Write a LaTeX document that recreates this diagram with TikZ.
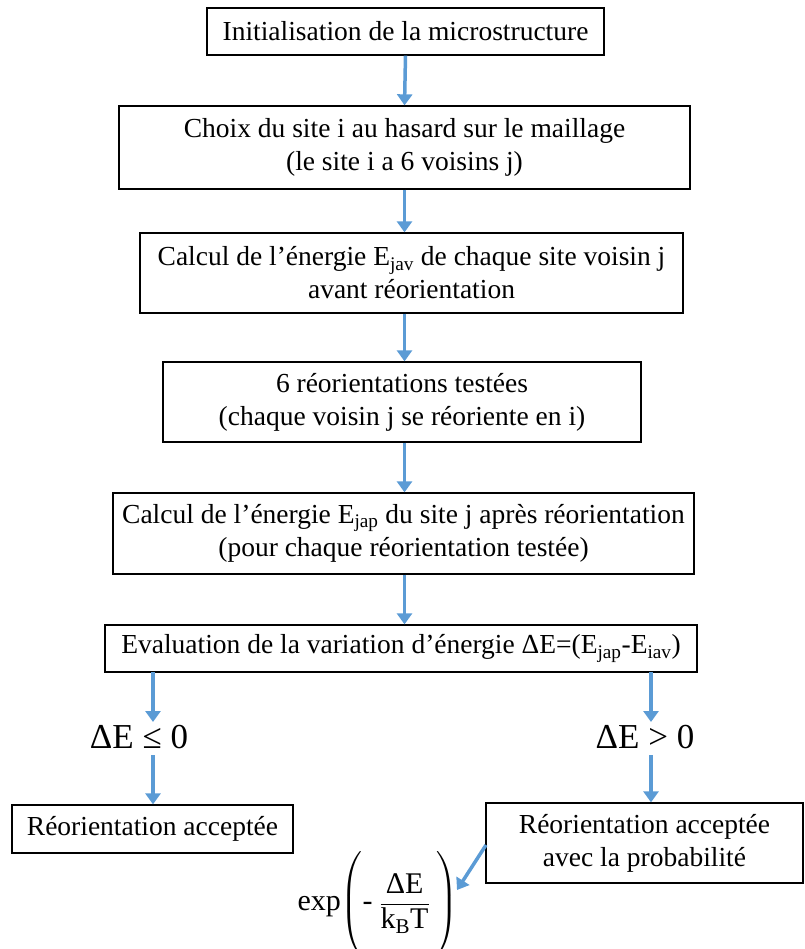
\documentclass[tikz,border=0pt]{standalone}
\usepackage{amsmath}
\usepackage{fontspec}
\setmainfont{Liberation Serif}
\usetikzlibrary{arrows.meta}
\definecolor{arrowblue}{HTML}{5B9BD5}
\tikzset{
  flowbox/.style={draw=black, line width=1.3pt, align=center, inner sep=0pt, font=\fontsize{27.5}{33}\selectfont},
  flowarrow/.style={draw=arrowblue, line width=3.5pt, -{Triangle[length=11pt,width=15pt]}},
  cond/.style={font=\fontsize{35}{38}\selectfont, inner sep=0pt}
}
\newcommand{\lsub}[1]{\textsubscript{#1}}
\begin{document}
\begin{tikzpicture}[x=1pt,y=-1pt]
\useasboundingbox (0,0) rectangle (804,949);
\node[flowbox, minimum width=397pt, minimum height=47pt] (b1) at (405.5,31.5) {Initialisation de la microstructure};
\node[flowbox, minimum width=571pt, minimum height=83pt] (b2) at (404.5,147.5) {Choix du site i au hasard sur le maillage\\(le site i a 6 voisins j)};
\node[flowbox, minimum width=543pt, minimum height=80pt] (b3) at (411.5,273) {Calcul de l’énergie E\lsub{jav} de chaque site voisin j\\avant réorientation};
\node[flowbox, minimum width=478pt, minimum height=80pt] (b4) at (402,402) {6 réorientations testées\\(chaque voisin j se réoriente en i)};
\node[flowbox, minimum width=581pt, minimum height=81pt] (b5) at (403.5,533.5) {Calcul de l’énergie E\lsub{jap} du site j après réorientation\\(pour chaque réorientation testée)};
\node[flowbox, minimum width=592pt, minimum height=47pt] (b6) at (401,648.5) {Evaluation de la variation d’énergie ΔE=(E\lsub{jap}-E\lsub{iav})};
\node[cond] (c1) at (139,737) {ΔE ≤ 0};
\node[cond] (c2) at (645,737) {ΔE > 0};
\node[flowbox, minimum width=281pt, minimum height=48pt] (b7) at (152.5,829) {Réorientation acceptée};
\node[flowbox, minimum width=317pt, minimum height=80pt] (b8) at (644.5,843) {Réorientation acceptée\\avec la probabilité};
\node[inner sep=0pt, font=\fontsize{30}{32}\selectfont] (f) at (378,904) {exp$\left(\rule[-42pt]{0pt}{86pt}\text{-}\;\dfrac{\rule{0pt}{22pt}\text{ΔE}}{\text{k\lsub{B}T}}\;\right)$};
\coordinate (l1) at (153,672);
\coordinate (l2) at (153,755);
\coordinate (r1) at (651,672);
\coordinate (r2) at (651,755);
\coordinate (d1) at (486,845);
\coordinate (d2) at (457,890);
\draw[flowarrow] (b1.south) -- (b2.north);
\draw[flowarrow] (b2.south) -- (b3.north -| b2.south);
\draw[flowarrow] (b3.south -| b2.south) -- (b4.north -| b2.south);
\draw[flowarrow] (b4.south -| b2.south) -- (b5.north -| b2.south);
\draw[flowarrow] (b5.south -| b2.south) -- (b6.north -| b2.south);
\draw[flowarrow] (l1) -- (153,722);
\draw[flowarrow] (l2) -- (b7.north -| l2);
\draw[flowarrow] (r1) -- (651,722);
\draw[flowarrow] (r2) -- (b8.north -| r2);
\draw[flowarrow] (d1) -- (d2);
\end{tikzpicture}
\end{document}
